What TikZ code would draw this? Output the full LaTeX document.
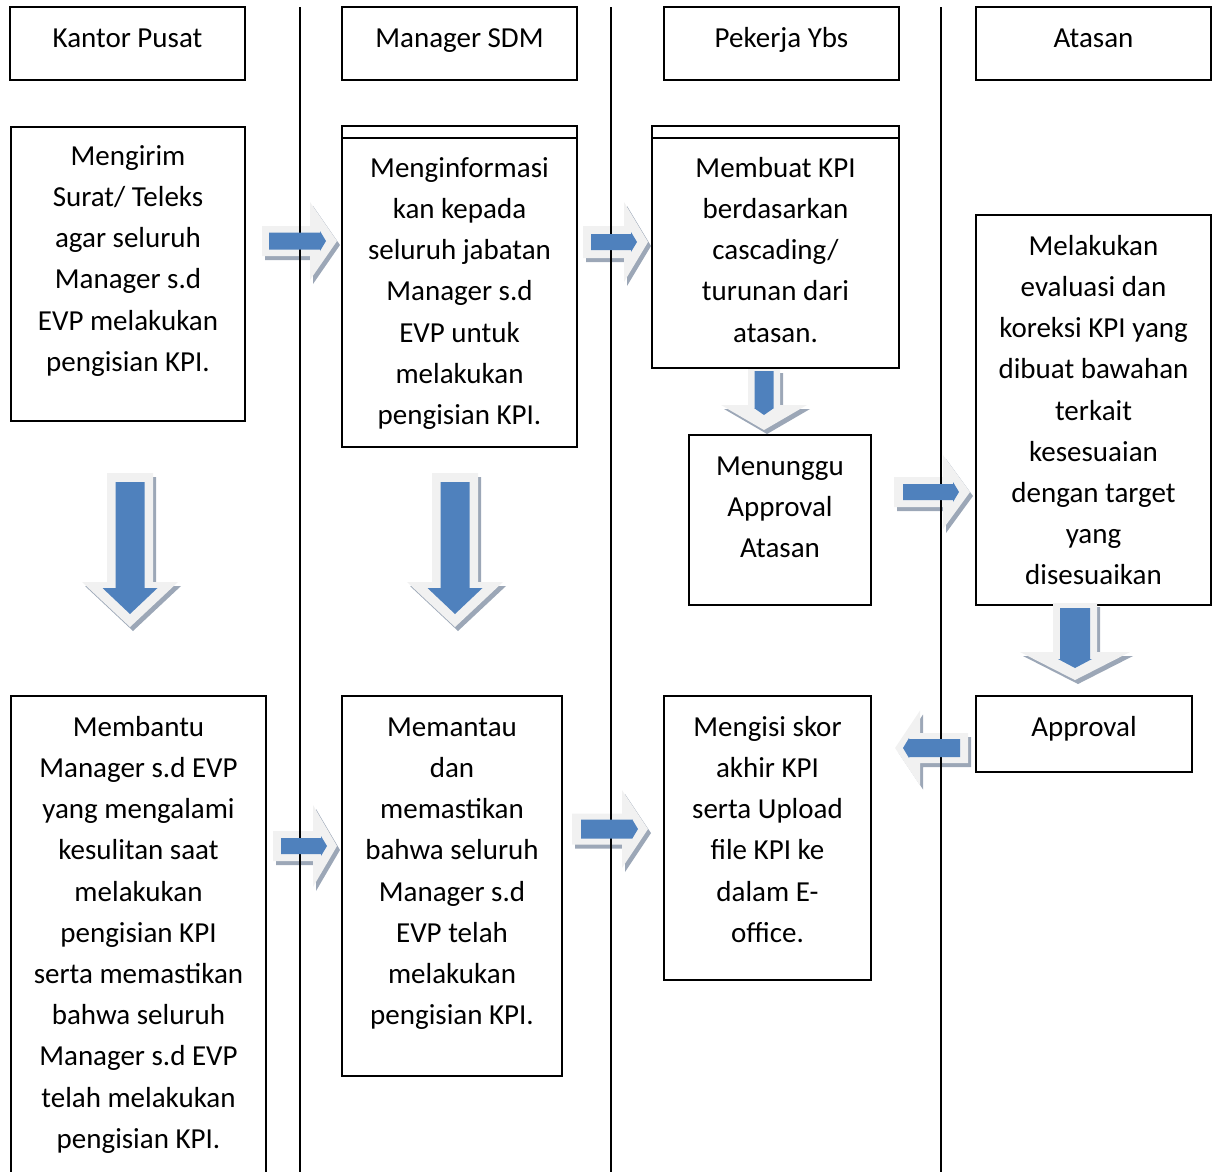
\documentclass[tikz,border=0pt]{standalone}
\usepackage{fontspec}
\setmainfont{Carlito}
\usetikzlibrary{fit,calc}
\pgfdeclarelayer{lines}
\pgfdeclarelayer{front}
\pgfsetlayers{main,lines,front}
\definecolor{arrlight}{HTML}{F1F1F1}
\definecolor{arrshadow}{HTML}{9CA7B7}
\definecolor{arrblue}{HTML}{4F81BD}

\pgfkeys{/barr/.cd,
  L/.store in=\bL, sw/.store in=\bSW, hw/.store in=\bHW, hl/.store in=\bHL,
  bin/.store in=\bIN, btip/.store in=\bTIP, bsw/.store in=\bBSW,
  bhw/.store in=\bBHW, bhl/.store in=\bBHL}

% #1 keys, #2 name, #3 tail coordinate, #4 angle
\newcommand\blockarrow[4][]{%
  \begingroup
  \pgfkeys{/barr/.cd, L=75, sw=15, hw=39, hl=26, bin=8, btip=11, bsw=8.5, bhw=10, bhl=6, #1}%
  \pgfmathsetmacro\bT{\bL-\bTIP}%
  \pgfmathsetmacro\bH{\bL-\bHL}%
  \pgfmathsetmacro\bBH{\bT-\bBHL}%
  \coordinate (#2) at #3;
  \begin{scope}[shift={(#2)}, shift={(3,4)}, rotate=#4]
    \fill[arrshadow] (0,-\bSW) -- (\bH,-\bSW) -- (\bH,-\bHW) -- (\bL,0) -- (\bH,\bHW) -- (\bH,\bSW) -- (0,\bSW) -- cycle;
  \end{scope}
  \begin{scope}[shift={(#2)}, rotate=#4]
    \fill[arrlight] (0,-\bSW) -- (\bH,-\bSW) -- (\bH,-\bHW) -- (\bL,0) -- (\bH,\bHW) -- (\bH,\bSW) -- (0,\bSW) -- cycle;
  \end{scope}
  \begin{pgfonlayer}{front}
  \begin{scope}[shift={(#2)}, rotate=#4]
    \fill[arrblue] (\bIN,-\bBSW) -- (\bBH,-\bBSW) -- (\bBH,-\bBHW) -- (\bT,0) -- (\bBH,\bBHW) -- (\bBH,\bBSW) -- (\bIN,\bBSW) -- cycle;
  \end{scope}
  \end{pgfonlayer}
  \endgroup}

% #1 name, #2 (x1,y1), #3 (x2,y2), #4 text offset, #5 text
\newcommand\textbox[5]{%
  \node[box, fit={#2 #3}] (#1) {};
  \node[txt, anchor=north] (#1-t) at ($(#1.north)+(0,#4)$) {\rule{0pt}{20pt}#5};}

\begin{document}
\begin{tikzpicture}[x=1pt, y=-1pt,
  box/.style={draw, line width=2pt, inner sep=0pt, rectangle},
  txt/.style={inner sep=0pt, align=center, font=\fontsize{29}{41.2}\selectfont},
  lane/.style={line width=2pt}]
\useasboundingbox (0,0) rectangle (1217,1171);

% header boxes
\textbox{hK}{(10,7)}{(245,80)}{21}{Kantor Pusat}
\textbox{hS}{(342,7)}{(577,80)}{21}{Manager SDM}
\textbox{hP}{(664,7)}{(899,80)}{21}{Pekerja Ybs}
\textbox{hA}{(976,7)}{(1211,80)}{21}{Atasan}

% body boxes
\textbox{kA}{(11,127)}{(245,421)}{19}{Mengirim\\Surat/ Teleks\\agar seluruh\\Manager s.d\\EVP melakukan\\pengisian KPI.}
\textbox{sA}{(342,126)}{(577,447)}{32}{Menginformasi\\kan kepada\\seluruh jabatan\\Manager s.d\\EVP untuk\\melakukan\\pengisian KPI.}
\draw[line width=2pt] ($(sA.north west)+(0,13)$) -- ($(sA.north east)+(0,13)$);
\textbox{pA}{(652,126)}{(899,368)}{32}{Membuat KPI\\berdasarkan\\cascading/\\turunan dari\\atasan.}
\draw[line width=2pt] ($(pA.north west)+(0,13)$) -- ($(pA.north east)+(0,13)$);
\textbox{pB}{(689,435)}{(871,605)}{21}{Menunggu\\Approval\\Atasan}
\textbox{aA}{(976,215)}{(1211,605)}{21}{Melakukan\\evaluasi dan\\koreksi KPI yang\\dibuat bawahan\\terkait\\kesesuaian\\dengan target\\yang\\disesuaikan}
\textbox{aB}{(976,696)}{(1192,772)}{21}{Approval}
\textbox{kB}{(11,696)}{(266,1190)}{21}{Membantu\\Manager s.d EVP\\yang mengalami\\kesulitan saat\\melakukan\\pengisian KPI\\serta memastikan\\bahwa seluruh\\Manager s.d EVP\\telah melakukan\\pengisian KPI.}
\textbox{sB}{(342,696)}{(562,1076)}{21}{Memantau\\dan\\memastikan\\bahwa seluruh\\Manager s.d\\EVP telah\\melakukan\\pengisian KPI.}
\textbox{pC}{(664,696)}{(871,980)}{21}{Mengisi skor\\akhir KPI\\serta Upload\\file KPI ke\\dalam E-\\office.}

% lane separators
\begin{pgfonlayer}{lines}
\coordinate (l1t) at (300,7);  \coordinate (l1b) at (300,1180);
\coordinate (l2t) at (611,7);  \coordinate (l2b) at (611,1180);
\coordinate (l3t) at (941,7);  \coordinate (l3b) at (941,1180);
\draw[lane] (l1t) -- (l1b);
\draw[lane] (l2t) -- (l2b);
\draw[lane] (l3t) -- (l3b);
\end{pgfonlayer}

% block arrows
\blockarrow[L=75, sw=15, hw=39, hl=27, bin=7, btip=11, bsw=8.5]{arA}{(262,241)}{0}
\blockarrow[L=65, sw=16, hw=40, hl=24, bin=8, btip=11, bsw=8]{arB}{(583,242)}{0}
\blockarrow[L=64, sw=15, hw=41, hl=24, bin=8, btip=10, bsw=8]{arI}{(273,846)}{0}
\blockarrow[L=76, sw=15.5, hw=39, hl=26, bin=9, btip=10, bsw=9.5]{arJ}{(572,829)}{0}
\blockarrow[L=76, sw=15, hw=37, hl=27, bin=9, btip=11, bsw=8]{arF}{(894,492)}{0}
\blockarrow[L=73, sw=15, hw=37.5, hl=25, bin=8, btip=8, bsw=9]{arH}{(968,748)}{180}
\blockarrow[L=154, sw=23, hw=48, hl=45, bin=9, btip=13, bsw=14.5, bhw=27.5, bhl=26]{arC}{(130,473)}{-90}
\blockarrow[L=154, sw=23, hw=48, hl=45, bin=9, btip=13, bsw=14.5, bhw=27.5, bhl=26]{arD}{(455,473)}{-90}
\blockarrow[L=61, sw=16, hw=43, hl=25, bin=2, btip=15, bsw=9.5, bhw=10, bhl=7]{arE}{(764,369)}{-90}
\blockarrow[L=77, sw=22, hw=55, hl=28, bin=5, btip=12, bsw=15, bhw=17, bhl=9]{arG}{(1075,603)}{-90}
\end{tikzpicture}
\end{document}
